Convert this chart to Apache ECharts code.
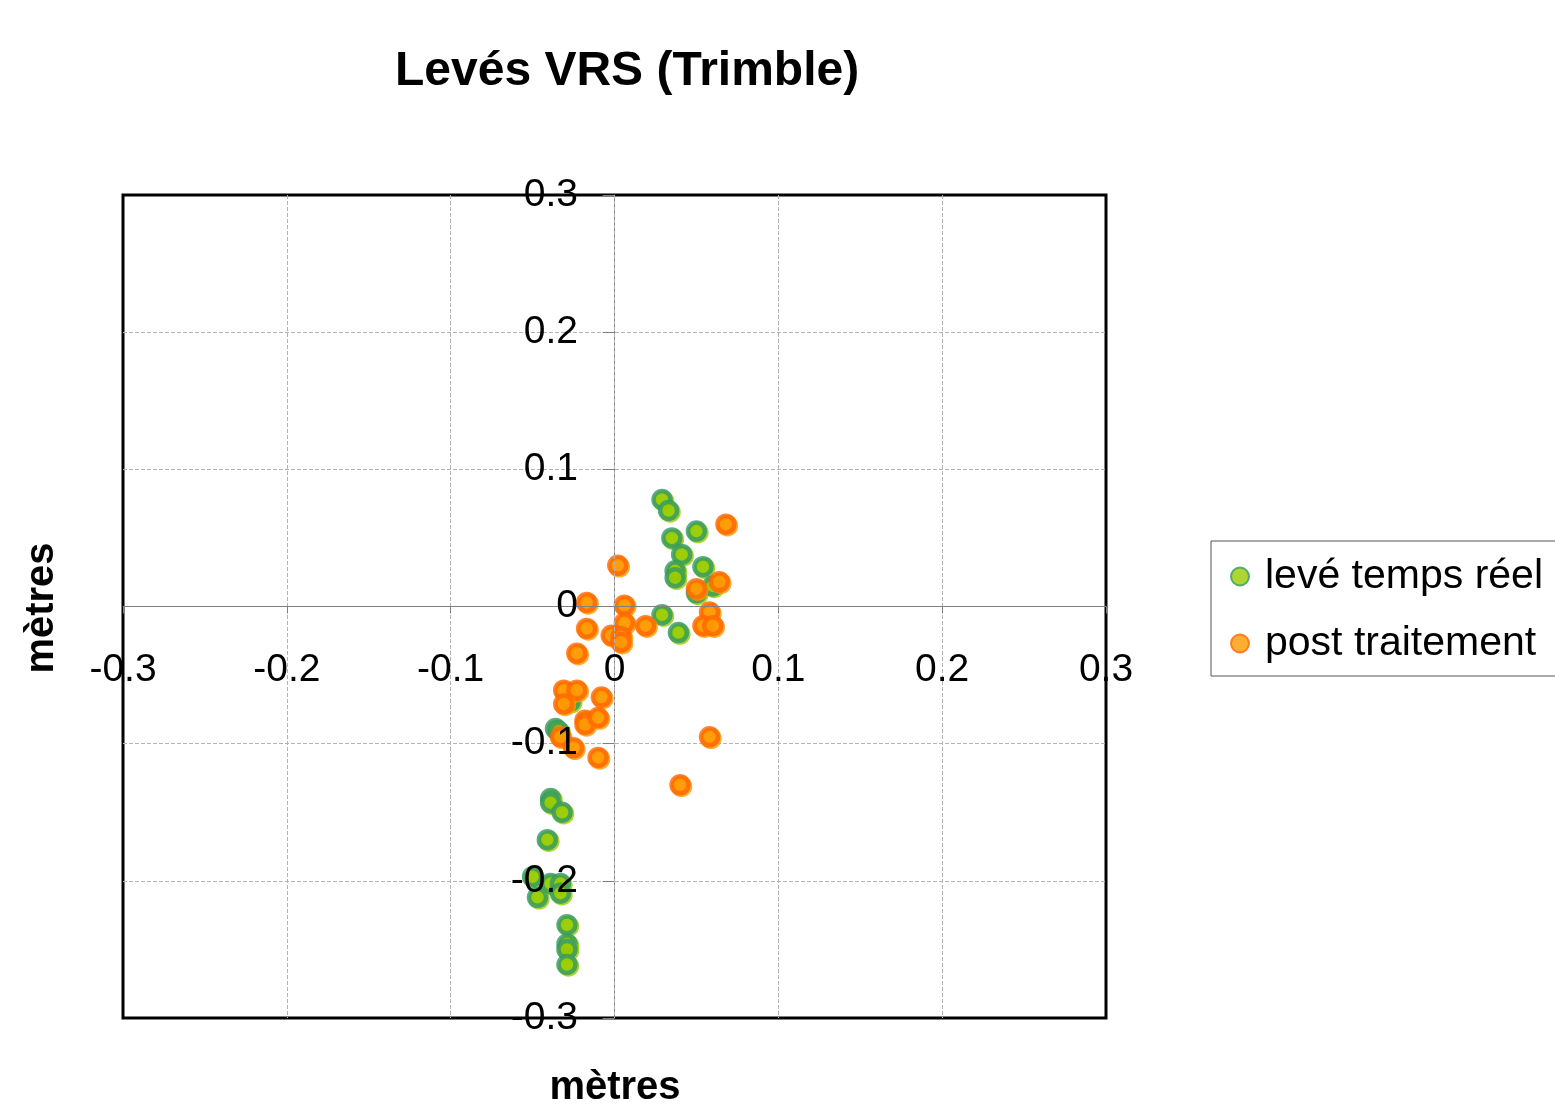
<!DOCTYPE html>
<html>
<head>
<meta charset="utf-8">
<script src="https://cdn.jsdelivr.net/npm/echarts@6/dist/echarts.min.js"></script>
<style>html,body{margin:0;padding:0;background:#fff}#c{width:1555px;height:1110px}</style>
</head>
<body>
<div id="c"></div>
<script>
const titleText = 'Levés VRS (Trimble)';
const axisName = 'mètres';
const seriesNames = ['levé temps réel', 'post traitement'];

const rtX = [0.029, 0.033, 0.050, 0.035, 0.041, 0.054, 0.037, 0.037, 0.050, 0.060, 0.029, 0.039,
  -0.036, -0.034, -0.027, -0.039, -0.039, -0.032, -0.041, -0.050, -0.047, -0.039, -0.033, -0.033,
  -0.029, -0.029, -0.029, -0.029];
const rtY = [0.078, 0.070, 0.055, 0.050, 0.038, 0.029, 0.026, 0.021, 0.010, 0.015, -0.006, -0.019,
  -0.089, -0.091, -0.069, -0.140, -0.143, -0.150, -0.170, -0.197, -0.212, -0.202, -0.202, -0.209,
  -0.232, -0.246, -0.250, -0.261];

const ptX = [0.068, 0.002, -0.017, 0.006, 0.050, 0.064, 0.058, 0.006, -0.017, 0.019, 0.054, 0.060,
  -0.002, 0.004, 0.004, -0.023, -0.031, -0.023, -0.031, -0.008, -0.018, -0.018, -0.010, -0.033,
  -0.025, -0.010, 0.058, 0.040];
const ptY = [0.060, 0.030, 0.003, 0.001, 0.013, 0.018, -0.004, -0.012, -0.016, -0.014, -0.014, -0.014,
  -0.021, -0.022, -0.026, -0.034, -0.061, -0.061, -0.071, -0.066, -0.083, -0.086, -0.081, -0.095,
  -0.103, -0.110, -0.095, -0.130];

const axisMin = -0.3, axisMax = 0.3, axisStep = 0.1;

const zip = (xs, ys) => xs.map((x, i) => [x, ys[i]]);
const FONT = 'Liberation Sans';
const fmt = v => String(Math.round(v * 10) / 10);

const chart = echarts.init(document.getElementById('c'), null, {renderer: 'canvas'});
chart.setOption({
  backgroundColor: '#fff',
  animation: false,
  title: {
    text: titleText, left: 390, top: 43,
    textStyle: {fontFamily: FONT, fontSize: 48, fontWeight: 'bold', color: '#000'}
  },
  legend: {
    orient: 'vertical', left: 1211, top: 541,
    padding: [15, 60, 12, 19], itemGap: 26,
    borderColor: '#555', borderWidth: 1,
    itemWidth: 18, itemHeight: 18,
    textStyle: {fontFamily: FONT, fontSize: 41, color: '#000', padding: [0, 0, 0, 11]},
    data: seriesNames
  },
  grid: {
    left: 123, top: 195, width: 983, height: 823,
    show: true, borderColor: '#000', borderWidth: 3, containLabel: false
  },
  xAxis: {
    type: 'value', min: axisMin, max: axisMax, interval: axisStep, z: 3,
    axisLine: {onZero: true, lineStyle: {color: '#808080', width: 1}},
    axisTick: {show: true, length: 7, lineStyle: {color: '#808080'}},
    axisLabel: {fontFamily: FONT, fontSize: 39, color: '#000', margin: -348,
      verticalAlign: 'middle', formatter: fmt},
    splitLine: {show: true, showMinLine: false, showMaxLine: false,
      lineStyle: {color: '#b3b3b3', type: 'dashed', width: 1}}
  },
  yAxis: [
    {
      type: 'value', min: axisMin, max: axisMax, interval: axisStep, z: 0,
      axisLine: {onZero: true, lineStyle: {color: '#808080', width: 1}},
      axisTick: {show: true, length: 12, lineStyle: {color: '#808080'}},
      axisLabel: {show: false},
      splitLine: {show: true, showMinLine: false, showMaxLine: false,
        lineStyle: {color: '#b3b3b3', type: 'dashed', width: 1}}
    },
    {
      type: 'value', position: 'left', offset: 0, min: axisMin, max: axisMax, interval: axisStep, z: 5,
      axisLine: {show: false}, axisTick: {show: false}, splitLine: {show: false},
      axisLabel: {fontFamily: FONT, fontSize: 39, color: '#000', margin: -455,
        align: 'right', verticalAlign: 'middle', formatter: fmt}
    }
  ],
  graphic: [
    {type: 'text', x: 615, y: 1088,
      style: {text: axisName, fontFamily: FONT, fontSize: 40, fontWeight: 'bold', fill: '#000',
        align: 'center', verticalAlign: 'middle'}},
    {type: 'text', rotation: Math.PI / 2, x: 42, y: 608,
      style: {text: axisName, fontFamily: FONT, fontSize: 40, fontWeight: 'bold', fill: '#000',
        align: 'center', verticalAlign: 'middle'}}
  ],
  series: [
    {
      name: seriesNames[0], type: 'scatter', symbol: 'circle', symbolSize: 17, yAxisIndex: 0,
      itemStyle: {color: '#99cc00', borderColor: '#339966', borderWidth: 4.5,
        shadowColor: '#99cc00', shadowOffsetX: 1.5, shadowOffsetY: 1.5, shadowBlur: 0},
      data: zip(rtX, rtY)
    },
    {
      name: seriesNames[1], type: 'scatter', symbol: 'circle', symbolSize: 17, yAxisIndex: 0,
      itemStyle: {color: '#ff9900', borderColor: '#ff6600', borderWidth: 4.5,
        shadowColor: '#ff9900', shadowOffsetX: 1.5, shadowOffsetY: 1.5, shadowBlur: 0},
      data: zip(ptX, ptY)
    }
  ]
});
</script>
</body>
</html>
